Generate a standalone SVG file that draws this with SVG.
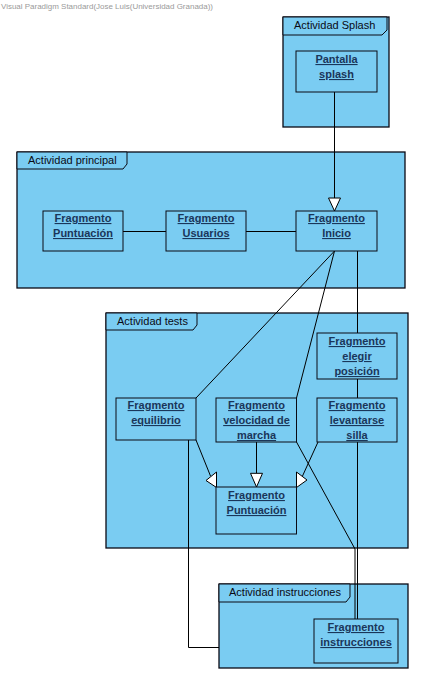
<svg xmlns="http://www.w3.org/2000/svg" width="425" height="685" viewBox="0 0 425 685">
<style>
.frame{fill:#7accf2;stroke:#0a0a14;stroke-width:1.3}
.tab{fill:#7accf2;stroke:#0a0a14;stroke-width:1}
.node{fill:#7accf2;stroke:#0a0a14;stroke-width:1}
.ftxt{font-family:"Liberation Sans",Arial,sans-serif;font-size:11px;fill:#0a0a14}
.ntxt{font-family:"Liberation Sans",Arial,sans-serif;font-size:11px;font-weight:bold;fill:#1a365a;text-anchor:middle;text-decoration:underline}
.wm{font-family:"Liberation Sans",Arial,sans-serif;font-size:8px;fill:#9a9a9a}
.conn line,.conn polyline{stroke:#000;stroke-width:1;fill:none}
.arr{fill:#fff;stroke:#000;stroke-width:1}
</style>
<rect width="425" height="685" fill="#fff"/>
<text class="wm" x="1" y="8.5" textLength="212" lengthAdjust="spacingAndGlyphs">Visual Paradigm Standard(Jose Luis(Universidad Granada))</text>

<g id="frame-splash">
<rect class="frame" x="283" y="17" width="106" height="110"/>
<polygon class="tab" points="283,17 387,17 387,30 382,35 283,35"/>
<text class="ftxt" x="294" y="29">Actividad Splash</text>
</g>
<g id="frame-principal">
<rect class="frame" x="17" y="152" width="388" height="136"/>
<polygon class="tab" points="17,152 127,152 127,164 123,169 17,169"/>
<text class="ftxt" x="28" y="164">Actividad principal</text>
</g>
<g id="frame-tests">
<rect class="frame" x="106" y="313" width="302" height="235"/>
<polygon class="tab" points="106,313 197,313 197,325 193,330 106,330"/>
<text class="ftxt" x="117" y="325">Actividad tests</text>
</g>
<g id="frame-instrucciones">
<rect class="frame" x="219" y="584" width="189" height="84"/>
<polygon class="tab" points="219,584 350,584 350,597 346,602 219,602"/>
<text class="ftxt" x="229" y="596">Actividad instrucciones</text>
</g>

<g class="conn" id="connectors">
<line x1="334.5" y1="92" x2="334.5" y2="198"/>
<polygon class="arr" points="328.5,198 340.5,198 334.5,211"/>
<line x1="123" y1="231.5" x2="166" y2="231.5"/>
<line x1="246" y1="231.5" x2="296" y2="231.5"/>
<line x1="334.5" y1="251" x2="196" y2="398"/>
<line x1="334.5" y1="251" x2="296.5" y2="398"/>
<line x1="357.5" y1="251" x2="357.5" y2="333"/>
<line x1="357.5" y1="379" x2="357.5" y2="398"/>
<line x1="196" y1="440" x2="210.5" y2="476"/>
<polygon class="arr" points="206,480.5 216.5,472 216.5,487.5"/>
<line x1="256.5" y1="442" x2="256.5" y2="473.3"/>
<polygon class="arr" points="250.5,473.3 262.5,473.3 256.5,487"/>
<line x1="318" y1="442" x2="302.5" y2="476"/>
<polygon class="arr" points="296.5,472 307,480 296.5,487.5"/>
<polyline points="296.5,442 355,549 355,619"/>
<line x1="357.5" y1="442" x2="357.5" y2="619"/>
<polyline points="188.5,440 188.5,647.5 219,647.5"/>
</g>

<g id="node-pantalla-splash">
<rect class="node" x="296" y="51" width="81" height="41"/>
<text class="ntxt" x="336.5" y="63">Pantalla</text>
<text class="ntxt" x="336.5" y="78">splash</text>
</g>
<g id="node-fragmento-puntuacion-principal">
<rect class="node" x="43" y="211" width="80" height="40"/>
<text class="ntxt" x="83" y="222">Fragmento</text>
<text class="ntxt" x="83" y="237">Puntuación</text>
</g>
<g id="node-fragmento-usuarios">
<rect class="node" x="166" y="211" width="80" height="40"/>
<text class="ntxt" x="206" y="222">Fragmento</text>
<text class="ntxt" x="206" y="237">Usuarios</text>
</g>
<g id="node-fragmento-inicio">
<rect class="node" x="296" y="211" width="81" height="40"/>
<text class="ntxt" x="336.5" y="222">Fragmento</text>
<text class="ntxt" x="336.5" y="237">Inicio</text>
</g>
<g id="node-fragmento-elegir-posicion">
<rect class="node" x="317" y="333" width="80" height="46"/>
<text class="ntxt" x="357" y="345">Fragmento</text>
<text class="ntxt" x="357" y="360">elegir</text>
<text class="ntxt" x="357" y="375">posición</text>
</g>
<g id="node-fragmento-equilibrio">
<rect class="node" x="116" y="398" width="80" height="42"/>
<text class="ntxt" x="156" y="409">Fragmento</text>
<text class="ntxt" x="156" y="424">equilibrio</text>
</g>
<g id="node-fragmento-velocidad">
<rect class="node" x="216" y="398" width="80.5" height="44"/>
<text class="ntxt" x="256.5" y="409">Fragmento</text>
<text class="ntxt" x="256.5" y="424">velocidad de</text>
<text class="ntxt" x="256.5" y="439">marcha</text>
</g>
<g id="node-fragmento-levantarse">
<rect class="node" x="317" y="398" width="80" height="44"/>
<text class="ntxt" x="357" y="409">Fragmento</text>
<text class="ntxt" x="357" y="424">levantarse</text>
<text class="ntxt" x="357" y="439">silla</text>
</g>
<g id="node-fragmento-puntuacion-tests">
<rect class="node" x="216" y="487" width="80.5" height="47"/>
<text class="ntxt" x="256.5" y="499">Fragmento</text>
<text class="ntxt" x="256.5" y="514">Puntuación</text>
</g>
<g id="node-fragmento-instrucciones">
<rect class="node" x="314" y="619" width="84" height="44"/>
<text class="ntxt" x="356" y="631">Fragmento</text>
<text class="ntxt" x="356" y="646">instrucciones</text>
</g>
</svg>
